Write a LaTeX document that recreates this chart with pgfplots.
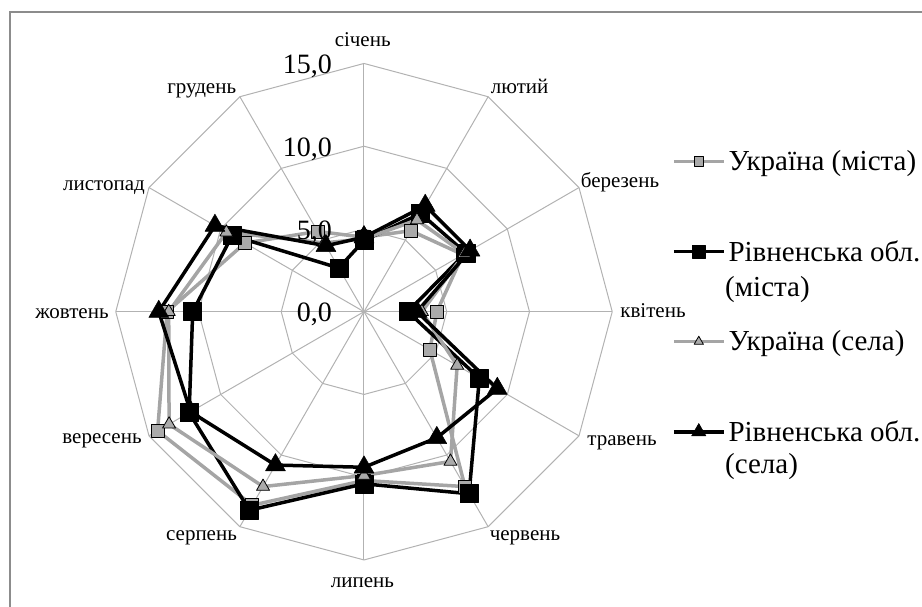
\documentclass[border=0pt]{standalone}
\usepackage{fontspec}
\setmainfont{Liberation Serif}
\usepackage{pgfplots}
\pgfplotsset{compat=1.18}
\definecolor{gridc}{RGB}{178,178,178}
\definecolor{sergray}{RGB}{165,165,165}
\definecolor{markgray}{RGB}{170,170,170}
\definecolor{framec}{RGB}{140,140,140}
\begin{document}
\begin{tikzpicture}
\useasboundingbox (-364pt,-294.3pt) rectangle (558pt,311.7pt);
\draw[framec, line width=1.5pt] (-354pt,-320pt) -- (-354pt,299.7pt) -- (580pt,299.7pt);
\begin{axis}[anchor=origin, at={(0pt,0pt)}, x=16.55pt, y=16.55pt,
  xmin=-15, xmax=15, ymin=-15, ymax=15, hide axis, clip=false,
  legend style={at={(axis cs:18.6,9.75)}, anchor=north west, draw=none, fill=none,
    inner sep=0pt, row sep=68.2pt, column sep=3pt,
    font=\fontsize{29}{33}\selectfont,
    nodes={inner sep=0pt}, cells={anchor=west}},
  legend image code/.code={\draw[mark repeat=2,mark phase=2, every mark/.append style={scale=0.72}] plot coordinates {(0pt,0pt) (25pt,0pt) (50pt,0pt)};},
  every axis plot/.append style={line join=round}
]
% grid polygons
\addplot[gridc, line width=1pt, data cs=polar, forget plot] coordinates {(90,5) (60,5) (30,5) (0,5) (-30,5) (-60,5) (-90,5) (-120,5) (-150,5) (180,5) (150,5) (120,5) (90,5)};
\addplot[gridc, line width=1pt, data cs=polar, forget plot] coordinates {(90,10) (60,10) (30,10) (0,10) (-30,10) (-60,10) (-90,10) (-120,10) (-150,10) (180,10) (150,10) (120,10) (90,10)};
\addplot[gridc, line width=1pt, data cs=polar, forget plot] coordinates {(90,15) (60,15) (30,15) (0,15) (-30,15) (-60,15) (-90,15) (-120,15) (-150,15) (180,15) (150,15) (120,15) (90,15)};
% spokes
\addplot[gridc, line width=1pt, data cs=polar, forget plot] coordinates {(90,15) (270,15)};
\addplot[gridc, line width=1pt, data cs=polar, forget plot] coordinates {(60,15) (240,15)};
\addplot[gridc, line width=1pt, data cs=polar, forget plot] coordinates {(30,15) (210,15)};
\addplot[gridc, line width=1pt, data cs=polar, forget plot] coordinates {(0,15) (180,15)};
\addplot[gridc, line width=1pt, data cs=polar, forget plot] coordinates {(-30,15) (150,15)};
\addplot[gridc, line width=1pt, data cs=polar, forget plot] coordinates {(-60,15) (120,15)};
% Україна (міста)
\addplot[sergray, line width=3.5pt, data cs=polar, mark=square*, mark size=6.5pt,
  mark options={fill=markgray, draw=black, line width=0.8pt, solid}]
  coordinates {(90,4.5) (60,5.65) (30,6.9) (0,4.4) (-30,4.6) (-60,12.2) (-90,10.2) (-120,13.5) (-150,14.4) (180,11.9) (150,8.3) (120,5.6) (90,4.5)};
\addlegendentry{Україна (міста)}
% Рівненська обл. (міста)
\addplot[black, line width=3.5pt, data cs=polar, mark=square*, mark size=9pt,
  mark options={fill=black, draw=black, line width=0.5pt, solid}]
  coordinates {(90,4.3) (60,6.85) (30,7.1) (0,2.65) (-30,8.05) (-60,12.7) (-90,10.4) (-120,13.85) (-150,12.2) (180,10.35) (150,9.2) (120,3.05) (90,4.3)};
\addlegendentry{Рівненська обл.}
% Україна (села)
\addplot[sergray, line width=3.5pt, data cs=polar, mark=triangle*, mark size=7.5pt,
  mark options={fill=markgray, draw=black, line width=0.8pt, solid}]
  coordinates {(90,4.4) (60,6.4) (30,7.0) (0,3.5) (-30,6.5) (-60,10.45) (-90,9.9) (-120,12.2) (-150,13.6) (180,11.8) (150,9.6) (120,4.8) (90,4.4)};
\addlegendentry{Україна (села)}
% Рівненська обл. (села)
\addplot[black, line width=3.5pt, data cs=polar, mark=triangle*, mark size=11.5pt,
  mark options={fill=black, draw=black, line width=0.5pt, solid}]
  coordinates {(90,4.5) (60,7.4) (30,7.4) (0,3.2) (-30,9.3) (-60,8.8) (-90,9.4) (-120,10.7) (-150,12.1) (180,12.4) (150,10.4) (120,4.6) (90,4.5)};
\addlegendentry{Рівненська обл.}
\end{axis}
% radial tick labels
\begin{scope}[every node/.style={font=\fontsize{28}{32}\selectfont, anchor=base east, inner sep=0pt}]
\node at (-32pt,238.3pt) {15,0};
\node at (-32pt,155.5pt) {10,0};
\node at (-32pt,72.7pt) {5,0};
\node at (-32pt,-10pt) {0,0};
\end{scope}
% month labels
\begin{scope}[every node/.style={font=\fontsize{21}{24}\selectfont, anchor=mid, inner sep=0pt}]
\node at (-1.3pt,267.7pt) {січень};
\node at (155.7pt,220pt) {лютий};
\node at (256pt,126.7pt) {березень};
\node at (289pt,-3.3pt) {квітень};
\node at (258pt,-131.3pt) {травень};
\node at (161pt,-226.3pt) {червень};
\node at (-1.5pt,-273.3pt) {липень};
\node at (-162.5pt,-226.3pt) {серпень};
\node at (-262pt,-129.3pt) {вересень};
\node at (-292pt,-4.3pt) {жовтень};
\node at (-260pt,123.7pt) {листопад};
\node at (-162.3pt,220pt) {грудень};
\end{scope}
% second lines of legend entries
\begin{scope}[every node/.style={font=\fontsize{29}{33}\selectfont, anchor=west, inner sep=0pt}]
\node at (361pt,21.7pt) {(міста)};
\node at (361pt,-155.3pt) {(села)};
\end{scope}
\end{tikzpicture}
\end{document}
